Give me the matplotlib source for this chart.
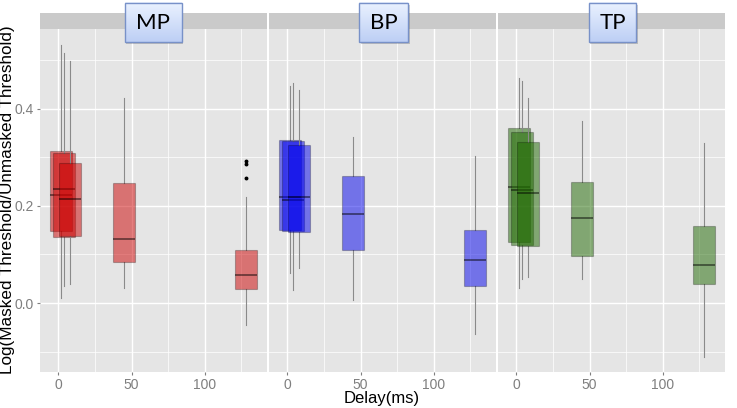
import numpy as np
import matplotlib
matplotlib.use("Agg")
import matplotlib.pyplot as plt
from matplotlib.patches import Rectangle

plt.rcParams['font.family'] = ['Liberation Sans', 'DejaVu Sans']

# delays (ms) of the five boxes in each panel
delays = [2, 4, 8, 45, 128]
panels = ['MP', 'BP', 'TP']

# summary statistics
mp_med = [0.223, 0.234, 0.213, 0.131, 0.057]
mp_q1 = [0.148, 0.135, 0.138, 0.084, 0.030]
mp_q3 = [0.312, 0.309, 0.289, 0.247, 0.109]
mp_lo = [0.010, 0.035, 0.039, 0.031, -0.044]
mp_hi = [0.531, 0.514, 0.497, 0.421, 0.218]
mp_fliers = [[], [], [], [], [0.292, 0.286, 0.258]]

bp_med = [0.218, 0.211, 0.218, 0.183, 0.088]
bp_q1 = [0.151, 0.148, 0.146, 0.109, 0.036]
bp_q3 = [0.336, 0.333, 0.326, 0.261, 0.150]
bp_lo = [0.061, 0.027, 0.073, 0.006, -0.064]
bp_hi = [0.447, 0.453, 0.438, 0.341, 0.302]
bp_fliers = [[], [], [], [], []]

tp_med = [0.239, 0.233, 0.226, 0.176, 0.079]
tp_q1 = [0.126, 0.119, 0.118, 0.097, 0.040]
tp_q3 = [0.360, 0.351, 0.331, 0.249, 0.159]
tp_lo = [0.032, 0.049, 0.053, 0.049, -0.110]
tp_hi = [0.463, 0.457, 0.422, 0.375, 0.329]
tp_fliers = [[], [], [], [], []]

data = {
    'MP': (mp_med, mp_q1, mp_q3, mp_lo, mp_hi, mp_fliers),
    'BP': (bp_med, bp_q1, bp_q3, bp_lo, bp_hi, bp_fliers),
    'TP': (tp_med, tp_q1, tp_q3, tp_lo, tp_hi, tp_fliers),
}
base_colors = {'MP': (0.80, 0.0, 0.0), 'BP': (0.0, 0.0, 0.92), 'TP': (0.12, 0.41, 0.0)}

W, H = 737, 408
fig = plt.figure(figsize=(W / 100, H / 100), dpi=100)

panel_left = [40, 269, 498]
panel_w = 227
top_px, bot_px, strip_top = 28.7, 372, 13.3

for i, name in enumerate(panels):
    ax = fig.add_axes([panel_left[i] / W, 1 - bot_px / H, panel_w / W, (bot_px - top_px) / H])
    ax.set_facecolor('#E5E5E5')
    med, q1, q3, lo, hi, fl = data[name]
    col = base_colors[name]
    for j, d in enumerate(delays):
        st = [dict(med=med[j], q1=q1[j], q3=q3[j], whislo=lo[j], whishi=hi[j], fliers=fl[j])]
        z = 2 + j * 0.1
        ax.bxp(st, positions=[d], widths=15, patch_artist=True, showcaps=False,
               manage_ticks=False,
               boxprops=dict(facecolor=(*col, 0.5), edgecolor=(0, 0, 0, 0.25), linewidth=0.8, zorder=z),
               medianprops=dict(color=(0, 0, 0, 0.6), linewidth=1.1, zorder=z + 0.01),
               whiskerprops=dict(color='#8A8A8A', linewidth=0.8, zorder=z - 0.05),
               flierprops=dict(marker='o', markersize=1.8, markerfacecolor='black',
                               markeredgecolor='black', zorder=z))
    ax.set_xlim(-12.5, 142.5)
    ax.set_ylim(-0.1415, 0.564)
    ax.set_xticks([0, 50, 100])
    ax.set_xticks([25, 75, 125], minor=True)
    ax.set_yticks([0.0, 0.2, 0.4])
    ax.set_yticks([-0.1, 0.1, 0.3, 0.5], minor=True)
    ax.grid(which='major', color='white', linewidth=1.0, zorder=0)
    ax.grid(which='minor', color='white', linewidth=0.5, zorder=0)
    ax.set_axisbelow(True)
    for s in ax.spines.values():
        s.set_visible(False)
    ax.tick_params(which='major', length=2.5, color='#7F7F7F', labelcolor='#7F7F7F',
                   labelsize=10, pad=2)
    ax.tick_params(which='minor', length=0)
    if i == 0:
        ax.set_yticklabels(['0.0', '0.2', '0.4'])
    else:
        ax.tick_params(axis='y', which='major', length=0, labelleft=False)

    # facet strip
    sax = fig.add_axes([panel_left[i] / W, 1 - top_px / H, panel_w / W, (top_px - strip_top) / H])
    sax.set_facecolor('#CACACA')
    sax.set_xticks([])
    sax.set_yticks([])
    for s in sax.spines.values():
        s.set_visible(False)

fig.text(8 / W, 1 - 200 / H, 'Log(Masked Threshold/Unmasked Threshold)', rotation=90,
         ha='center', va='center', fontsize=12.3, color='black')
fig.text(382 / W, 1 - 399 / H, 'Delay(ms)', ha='center', va='center', fontsize=12, color='black')

# callout labels drawn over the strips
ov = fig.add_axes([0, 0, 1, 1], zorder=10)
ov.set_xlim(0, W)
ov.set_ylim(H, 0)
ov.axis('off')
ov.patch.set_alpha(0)
callouts = [('MP', 125, 181.7), ('BP', 359.3, 408.3), ('TP', 589, 636.3)]
grad = np.linspace(0, 1, 64).reshape(-1, 1)
top_c = np.array([0.92, 0.95, 1.0])
bot_c = np.array([0.74, 0.81, 0.96])
img = top_c[None, None, :] * (1 - grad[:, :, None]) + bot_c[None, None, :] * grad[:, :, None]
for label, x0, x1 in callouts:
    y0, y1 = 2.7, 42.5
    ov.add_patch(Rectangle((x0 + 1.5, y0 + 2), x1 - x0, y1 - y0, facecolor=(0, 0, 0, 0.18),
                           edgecolor='none'))
    ov.imshow(img, extent=(x0, x1, y1, y0), aspect='auto', interpolation='bilinear', zorder=2)
    ov.add_patch(Rectangle((x0, y0), x1 - x0, y1 - y0, facecolor='none',
                           edgecolor='#7891C8', linewidth=1.0, zorder=3))
    ov.text((x0 + x1) / 2, (y0 + y1) / 2 + 0.5, label, ha='center', va='center',
            fontsize=16, family=['Lato', 'DejaVu Sans'], color='black', zorder=4)
ov.set_xlim(0, W)
ov.set_ylim(H, 0)

fig.savefig('out.png', dpi=100)
